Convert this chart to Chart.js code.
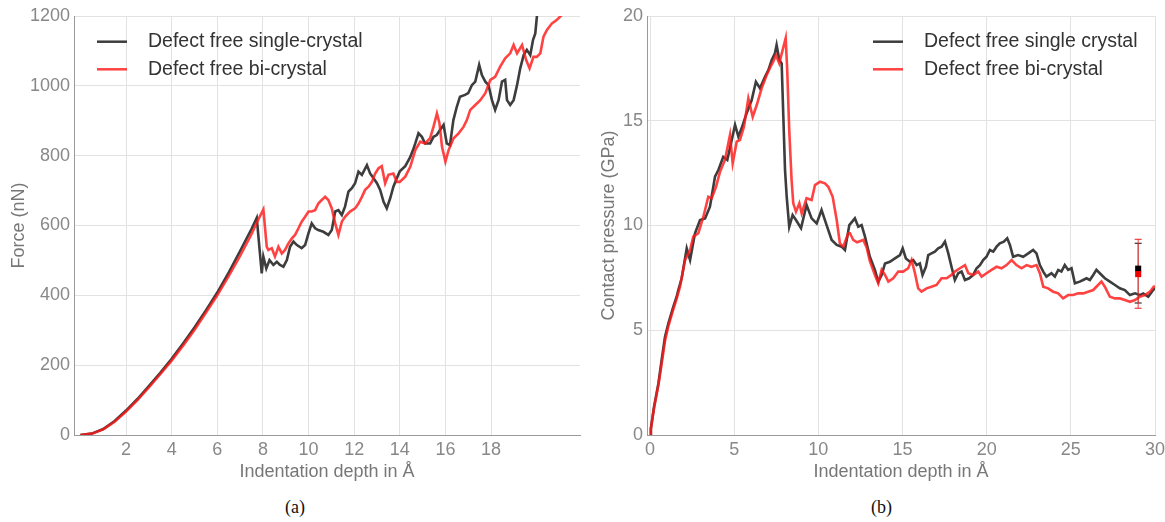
<!DOCTYPE html>
<html>
<head>
<meta charset="utf-8">
<script src="https://cdn.jsdelivr.net/npm/chart.js@4.4.1/dist/chart.umd.min.js"></script>
<style>
  body { margin: 0; background: #fff; width: 1165px; height: 522px; overflow: hidden; position: relative; }
  canvas { position: absolute; top: 0; }
  #chartA { left: 0; }
  #chartB { left: 590px; }
  .cap { position: absolute; top: 497px; font: 18px "Liberation Serif", "Times New Roman", serif; color: #111; }
</style>
</head>
<body>
<canvas id="chartA" width="595" height="483"></canvas>
<canvas id="chartB" width="590" height="483"></canvas>
<div class="cap" style="left:285px">(a)</div>
<div class="cap" style="left:871px">(b)</div>
<script>
// ---- panel (a): force vs depth ----
const depthTicksA = [2, 4, 6, 8, 10, 12, 14, 16, 18];
const forceTicks = [0, 200, 400, 600, 800, 1000, 1200];

const depthSingleA = [0, 0.5, 1, 1.5, 2, 2.5, 3, 3.5, 4, 4.5, 5, 5.5, 6, 6.5, 7, 7.5, 7.73,
  7.95, 8.02, 8.15, 8.29, 8.46, 8.61, 8.75, 8.9, 9.05, 9.19, 9.34, 9.49, 9.7, 9.85, 10.0, 10.14, 10.29, 10.43,
  10.65, 10.87, 11.02, 11.17, 11.31, 11.46, 11.6, 11.75, 11.9, 12.04, 12.19, 12.34, 12.56, 12.7, 12.85, 13.0,
  13.14, 13.29, 13.43, 13.58, 13.72, 13.87, 14.0, 14.24, 14.45, 14.6, 14.68, 14.82, 14.97, 15.11, 15.33, 15.48,
  15.62, 15.77, 15.92, 16.06, 16.2, 16.35, 16.5, 16.64, 16.86, 17.0, 17.16, 17.31, 17.48, 17.6, 17.75, 17.89,
  18.04, 18.18, 18.33, 18.48, 18.62, 18.7, 18.84, 18.99, 19.14, 19.28, 19.43, 19.57, 19.72, 19.84, 19.94, 20.01, 20.08];
const forceSingleA = [0, 4, 17, 40, 70, 103, 140, 178, 218, 262, 308, 357, 408, 465, 527, 590, 622,
  463, 511, 477, 501, 487, 496, 487, 482, 501, 539, 554, 544, 535, 544, 578, 606, 592, 587,
  582, 573, 587, 640, 644, 630, 654, 697, 707, 721, 754, 745, 773, 749, 735, 721,
  702, 668, 649, 678, 711, 735, 755, 770, 795, 820, 835, 864, 854, 835, 835, 854,
  859, 874, 888, 835, 830, 902, 940, 969, 974, 979, 1002, 1012, 1060, 1031, 1012, 1002,
  959, 931, 959, 1012, 1017, 959, 945, 959, 1002, 1050, 1088, 1103, 1088, 1131, 1150, 1198, 1260];

const depthBiA = [0, 0.5, 1, 1.5, 2, 2.5, 3, 3.5, 4, 4.5, 5, 5.5, 6, 6.5, 7, 7.5, 7.73, 8.02,
  8.17, 8.24, 8.39, 8.53, 8.68, 8.83, 8.97, 9.12, 9.27, 9.41, 9.56, 9.7, 9.85, 10.0, 10.14, 10.29, 10.43,
  10.58, 10.73, 10.87, 11.02, 11.17, 11.31, 11.46, 11.6, 11.82, 12.04, 12.19, 12.34, 12.48, 12.63, 12.78, 12.92,
  13.07, 13.21, 13.36, 13.5, 13.72, 13.87, 14.0, 14.24, 14.46, 14.68, 14.9, 15.11, 15.33, 15.48, 15.63, 15.74,
  15.85, 16.0, 16.14, 16.36, 16.58, 16.8, 16.94, 17.09, 17.31, 17.53, 17.75, 17.97, 18.18, 18.4, 18.62, 18.84,
  18.99, 19.14, 19.36, 19.54, 19.69, 19.86, 20.0, 20.16, 20.3, 20.45, 20.67, 20.89, 21.1, 21.2];
const forceBiA = [0, 4, 16, 38, 67, 100, 136, 174, 213, 256, 301, 350, 400, 455, 513, 575, 608, 646,
  539, 530, 535, 511, 539, 520, 530, 549, 563, 573, 592, 611, 625, 640, 640, 644, 663,
  673, 682, 673, 649, 606, 573, 611, 625, 640, 649, 663, 682, 702, 711, 725, 749,
  764, 770, 721, 745, 749, 725, 725, 740, 768, 816, 840, 835, 850, 883, 921, 893,
  826, 783, 816, 850, 864, 883, 902, 931, 945, 959, 979, 1017, 1026, 1055, 1079, 1093,
  1117, 1093, 1117, 1074, 1050, 1083, 1083, 1093, 1141, 1160, 1179, 1189, 1203, 1215];

// ---- panel (b): contact pressure vs depth ----
const depthTicksB = [0, 5, 10, 15, 20, 25, 30];
const pressureTicks = [0, 5, 10, 15, 20];

const depthSingleB = [0, 0.05, 0.24, 0.5, 0.69, 0.89, 1.09, 1.38, 1.58, 1.68, 1.88, 2.18, 2.38, 2.67, 2.97, 3.27,
  3.56, 3.86, 4.06, 4.35, 4.59, 4.79, 5.05, 5.25, 5.44, 5.74, 6.04, 6.29, 6.53, 6.83, 7.03, 7.23, 7.42, 7.52,
  7.68, 7.82, 7.92, 8.02, 8.12, 8.27, 8.47, 8.67, 8.97, 9.3, 9.6, 9.9, 10.19, 10.49, 10.79, 11.09, 11.38, 11.58,
  11.84, 12.17, 12.37, 12.57, 12.77, 13.06, 13.36, 13.56, 13.76, 13.96, 14.25, 14.55, 14.85, 15.01, 15.2, 15.44,
  15.64, 15.84, 16.03, 16.19, 16.39, 16.53, 16.72, 16.92, 17.12, 17.32, 17.52, 17.72, 17.91, 18.11, 18.31, 18.51,
  18.71, 18.96, 19.2, 19.4, 19.6, 19.79, 19.99, 20.19, 20.39, 20.59, 20.78, 21.02, 21.22, 21.38, 21.57, 21.87,
  22.17, 22.47, 22.76, 22.96, 23.16, 23.36, 23.55, 23.85, 24.05, 24.25, 24.44, 24.64, 24.84, 25.04, 25.24, 25.53,
  25.73, 25.93, 26.13, 26.33, 26.52, 26.72, 27.02, 27.32, 27.62, 27.91, 28.21, 28.51, 28.81, 29.1, 29.3, 29.6,
  29.89, 30.0];
const pressureSingleB = [0, 0.3, 1.35, 2.47, 3.58, 4.69, 5.33, 6.12, 6.6, 6.92, 7.48, 8.91, 8.35, 9.63, 10.26, 10.34,
  10.9, 12.33, 12.65, 13.28, 13.13, 13.84, 14.8, 14.24, 14.64, 15.36, 15.99, 16.86, 16.55, 17.1, 17.42, 17.9, 18.22, 18.62,
  17.9, 17.74, 15.19, 12.65, 11.37, 9.94, 10.5, 10.26, 9.87, 10.98, 10.34, 10.1, 10.74, 10.02, 9.31, 9.07, 8.99, 8.83,
  10.02, 10.34, 9.94, 10.02, 9.47, 8.51, 7.88, 7.32, 7.64, 8.19, 8.27, 8.43, 8.59, 8.91, 8.43, 8.27,
  8.35, 8.11, 8.19, 7.64, 8.03, 8.59, 8.67, 8.75, 8.91, 8.99, 9.23, 8.67, 8.03, 7.4, 7.72, 7.8,
  7.4, 7.48, 7.64, 7.96, 8.11, 8.35, 8.51, 8.83, 8.75, 8.99, 9.15, 9.23, 9.39, 9.07, 8.51, 8.59,
  8.51, 8.67, 8.83, 8.67, 8.11, 7.8, 7.56, 7.72, 7.56, 7.88, 7.8, 8.11, 7.88, 7.96, 7.24, 7.32,
  7.4, 7.48, 7.4, 7.64, 7.88, 7.72, 7.48, 7.32, 7.16, 7.0, 6.92, 6.68, 6.76, 6.68, 6.76, 6.6,
  6.92, 7.0];

const depthBiB = [0, 0.05, 0.24, 0.5, 0.69, 0.89, 1.09, 1.38, 1.58, 1.78, 2.08, 2.38, 2.57, 2.87, 3.17, 3.46,
  3.66, 3.92, 4.16, 4.45, 4.75, 4.91, 5.15, 5.34, 5.58, 5.84, 6.1, 6.34, 6.63, 6.93, 7.16, 7.32, 7.48, 7.68,
  7.88, 8.06, 8.15, 8.27, 8.41, 8.51, 8.67, 8.87, 9.01, 9.3, 9.6, 9.8, 10.1, 10.39, 10.59, 10.85, 11.09, 11.28,
  11.48, 11.78, 11.88, 12.07, 12.3, 12.67, 12.87, 13.06, 13.36, 13.56, 13.76, 13.96, 14.16, 14.45, 14.75, 15.04,
  15.34, 15.54, 15.74, 15.93, 16.13, 16.43, 16.72, 17.02, 17.32, 17.62, 17.91, 18.11, 18.41, 18.71, 18.91, 19.2,
  19.5, 19.7, 19.99, 20.29, 20.59, 20.88, 21.18, 21.48, 21.77, 22.07, 22.37, 22.66, 22.96, 23.16, 23.36, 23.65,
  23.95, 24.25, 24.54, 24.84, 25.14, 25.43, 25.73, 26.03, 26.33, 26.62, 26.82, 27.02, 27.32, 27.62, 27.91, 28.21,
  28.51, 28.81, 29.1, 29.4, 29.7, 29.93, 30.0];
const pressureBiB = [0, 0.3, 1.3, 2.4, 3.4, 4.5, 5.2, 6.0, 6.5, 7.08, 8.35, 8.83, 9.47, 9.63, 10.42, 11.37,
  11.3, 11.85, 12.57, 13.13, 14.32, 12.97, 14.0, 14.08, 14.72, 16.07, 15.19, 15.75, 16.55, 17.18, 17.58, 17.82, 18.14, 17.74,
  18.38, 18.94, 17.42, 14.56, 12.17, 11.06, 10.66, 11.06, 10.58, 11.3, 11.22, 11.93, 12.09, 12.01, 11.85, 11.37, 10.26, 9.15,
  8.99, 9.63, 9.63, 9.31, 9.2, 9.31, 8.95, 8.3, 7.64, 7.24, 7.88, 7.64, 7.32, 7.48, 7.8, 7.8,
  7.96, 8.35, 7.72, 7.0, 6.84, 7.0, 7.08, 7.16, 7.48, 7.48, 7.64, 7.8, 7.96, 8.11, 7.72, 7.64,
  7.8, 7.56, 7.72, 7.88, 8.03, 7.96, 8.11, 8.35, 8.11, 7.96, 8.11, 8.03, 8.11, 7.72, 7.08, 7.0,
  6.84, 6.76, 6.52, 6.68, 6.68, 6.76, 6.76, 6.84, 6.92, 7.16, 7.32, 7.08, 6.6, 6.52, 6.52, 6.44,
  6.36, 6.44, 6.6, 6.68, 6.84, 7.08, 7.1];

// averaged value with error bar at the end of panel (b)
const errDepth = 29.0;
const errSingle = { mean: 7.94, low: 6.3, high: 9.15 };
const errBi = { mean: 7.68, low: 6.05, high: 9.34 };

const BLACK = '#3d3d3d';
const RED = 'rgba(255, 25, 25, 0.82)';

Chart.defaults.font.family = '"Liberation Sans", Arial, sans-serif';
Chart.defaults.animation = false;

const toPoints = (xs, ys) => xs.map((x, i) => ({ x: x, y: ys[i] }));

// legend drawn inside the plot area, like the original figure
const innerLegend = {
  id: 'innerLegend',
  afterDraw(chart, args, opts) {
    const { ctx, chartArea } = chart;
    ctx.save();
    ctx.font = '19.5px "Liberation Sans", Arial, sans-serif';
    ctx.textBaseline = 'middle';
    chart.data.datasets.filter(d => !d.noLegend).forEach((d, i) => {
      const y = chartArea.top + opts.y0 + i * 27.6;
      const x = chartArea.left + opts.x0;
      ctx.strokeStyle = d.borderColor;
      ctx.lineWidth = 2.5;
      ctx.beginPath();
      ctx.moveTo(x, y);
      ctx.lineTo(x + 30, y);
      ctx.stroke();
      ctx.fillStyle = '#333';
      ctx.fillText(d.label, x + 51, y);
    });
    ctx.restore();
  }
};

const axisStyle = (title, ticks, titlePad) => ({
  type: 'linear',
  afterBuildTicks: s => { s.ticks = ticks.map(v => ({ value: v })); },
  grid: { color: '#e2e2e2', drawTicks: false },
  border: { color: '#9a9a9a' },
  ticks: { color: '#888', font: { size: 18 }, padding: 4, maxRotation: 0, autoSkip: false,
    callback: v => String(v) },
  title: { display: true, text: title, color: '#777', font: { size: 18 }, padding: titlePad }
});

const lineSet = (label, pts, color, order) => ({
  label: label, data: pts, borderColor: color, backgroundColor: color,
  borderWidth: 2.6, pointRadius: 0, tension: 0, order: order
});

// panel (a)
const xA = axisStyle('Indentation depth in Å', depthTicksA, 0);
xA.min = -0.28; xA.max = 21.9;
xA.afterFit = s => { s.height = 48; };
const yA = axisStyle('Force (nN)', forceTicks, { top: 8, bottom: 0 });
yA.min = 0; yA.max = 1200;
yA.afterFit = s => { s.width = 74; };

new Chart(document.getElementById('chartA'), {
  type: 'line',
  data: {
    datasets: [
      lineSet('Defect free single-crystal', toPoints(depthSingleA, forceSingleA), BLACK, 2),
      lineSet('Defect free bi-crystal', toPoints(depthBiA, forceBiA), RED, 1)
    ]
  },
  options: {
    responsive: false,
    layout: { padding: { top: 16, right: 15, left: 0, bottom: 0 } },
    scales: { x: xA, y: yA },
    plugins: { legend: { display: false }, tooltip: { enabled: false }, innerLegend: { x0: 23, y0: 25.7 } }
  },
  plugins: [innerLegend]
});

// panel (b)
const xB = axisStyle('Indentation depth in Å', depthTicksB, 0);
xB.min = -0.18; xB.max = 30;
xB.afterFit = s => { s.height = 48; };
const yB = axisStyle('Contact pressure (GPa)', pressureTicks, { top: 8, bottom: 0 });
yB.min = 0; yB.max = 20;
yB.afterFit = s => { s.width = 57; };

const errBar = (e, color, capColor) => ({
  data: [{ x: errDepth, y: e.low }, { x: errDepth, y: e.high }],
  borderColor: color, borderWidth: 1, pointStyle: 'line', pointRadius: 3.5,
  pointBorderColor: capColor, pointBorderWidth: 1.2, order: 0, noLegend: true
});
const errMark = (e, color, order) => ({
  data: [{ x: errDepth, y: e.mean }], showLine: false, pointStyle: 'rect', pointRadius: 4.3,
  pointBackgroundColor: color, pointBorderColor: color, pointBorderWidth: 0, order: order, noLegend: true
});

new Chart(document.getElementById('chartB'), {
  type: 'line',
  data: {
    datasets: [
      lineSet('Defect free single crystal', toPoints(depthSingleB, pressureSingleB), BLACK, 4),
      lineSet('Defect free bi-crystal', toPoints(depthBiB, pressureBiB), RED, 3),
      errBar(errBi, 'rgba(240,40,40,0.9)', 'rgba(240,40,40,0.9)'),
      errBar(errSingle, 'rgba(60,60,60,0.7)', '#333'),
      errMark(errSingle, '#000', -1),
      errMark(errBi, '#f00000', -2)
    ]
  },
  options: {
    responsive: false,
    layout: { padding: { top: 16, right: 25, left: 0, bottom: 0 } },
    scales: { x: xB, y: yB },
    plugins: { legend: { display: false }, tooltip: { enabled: false }, innerLegend: { x0: 226, y0: 25.7 } }
  },
  plugins: [innerLegend]
});
</script>
</body>
</html>
